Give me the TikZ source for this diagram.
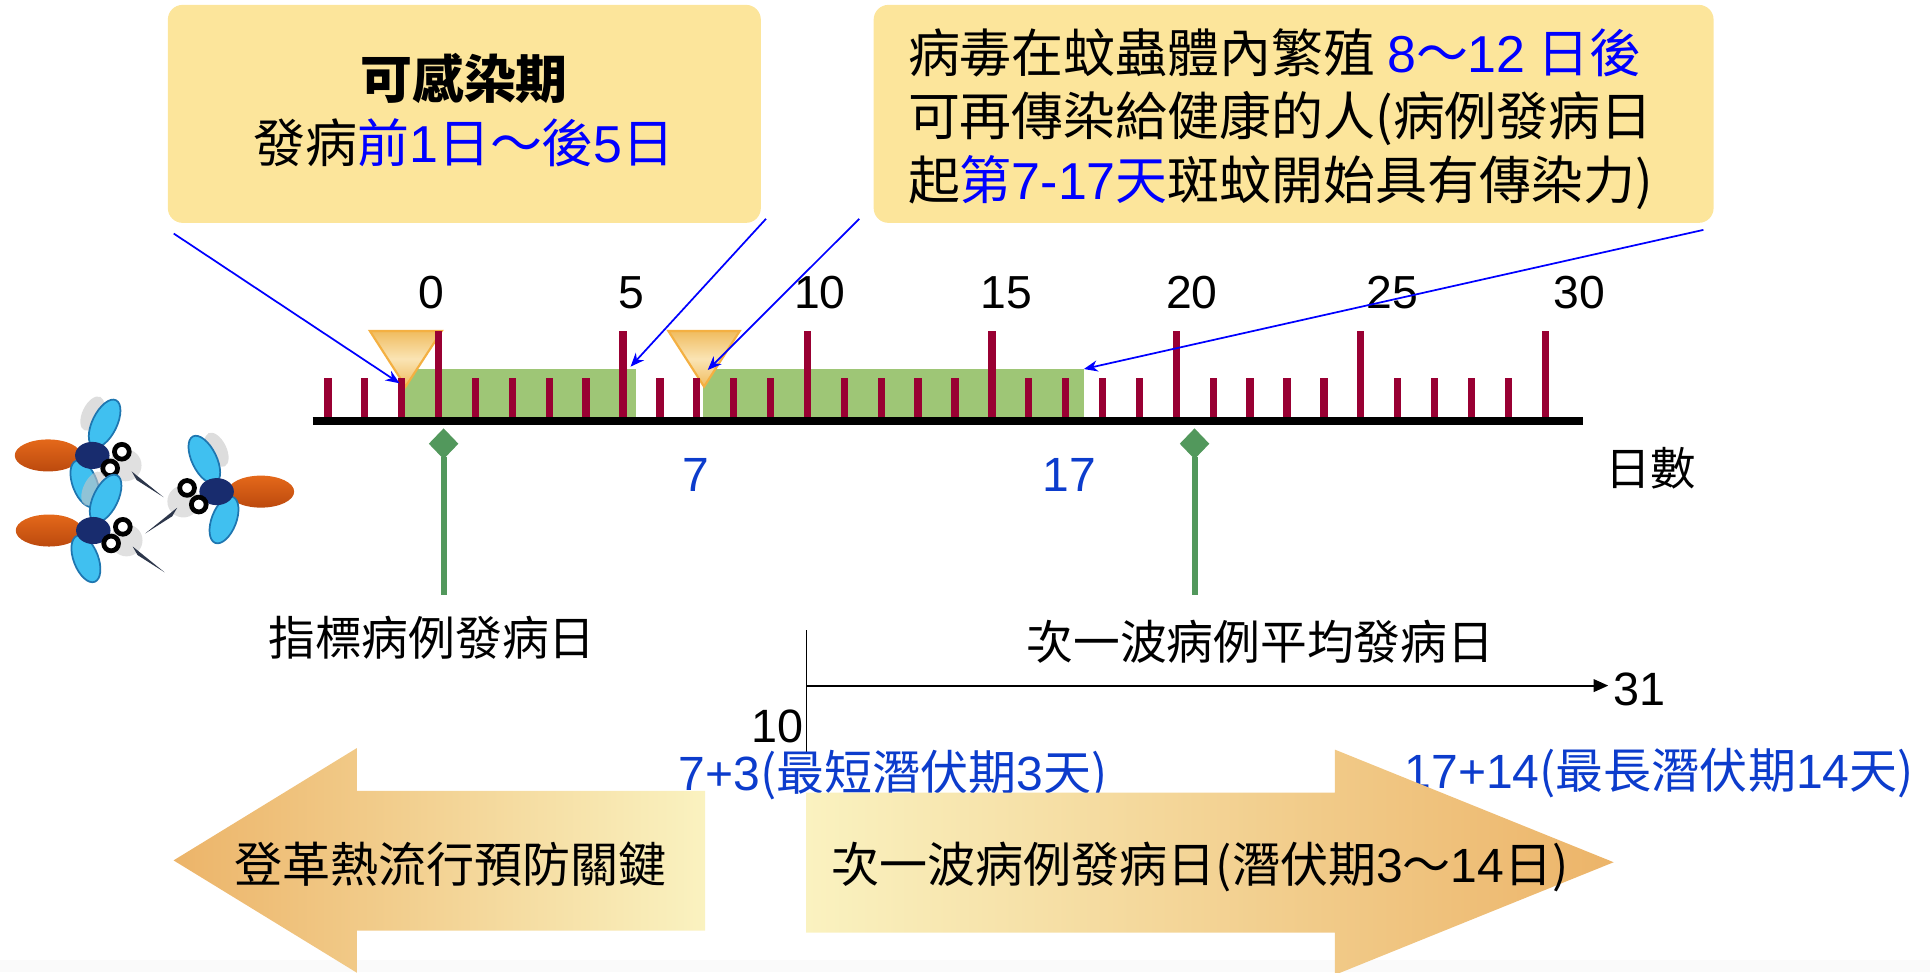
\documentclass[tikz,border=0pt]{standalone}
\usepackage{fontspec}
\setmainfont{Noto Sans CJK TC}
\newfontfamily\latinfont{Liberation Sans}
\newcommand{\latn}[1]{{\latinfont #1}}
\usetikzlibrary{arrows.meta}

\definecolor{boxyellow}{RGB}{252,229,155}
\definecolor{textblue}{RGB}{0,0,255}
\definecolor{labelblue}{RGB}{12,60,204}
\definecolor{tickred}{RGB}{153,0,51}
\definecolor{bargreen}{RGB}{158,198,118}
\definecolor{markgreen}{RGB}{82,152,92}
\definecolor{triorange}{RGB}{240,188,95}
\definecolor{trilight}{RGB}{250,228,180}
\definecolor{triedge}{RGB}{244,176,66}
\definecolor{arroworange}{RGB}{236,180,105}
\definecolor{arrowlight}{RGB}{250,242,192}
\definecolor{bodyorange}{RGB}{228,104,26}
\definecolor{bodydark}{RGB}{188,74,14}
\definecolor{thoraxnavy}{RGB}{24,44,110}
\definecolor{wingblue}{RGB}{64,192,240}
\definecolor{wingedge}{RGB}{30,118,176}
\definecolor{stylet}{RGB}{45,55,75}

\tikzset{
  mosquito/.pic={
    \fill[gray!45, opacity=0.6] (0,-34) circle[x radius=15, y radius=8, rotate=64];
    \fill[gray!40, opacity=0.6] (27,8) circle[radius=13];
    \shade[top color=bodyorange, bottom color=bodydark] (-36,0) circle[x radius=27, y radius=13];
    \filldraw[fill=wingblue, draw=wingedge, line width=0.4pt] (10,-26) circle[x radius=21, y radius=10, rotate=64];
    \filldraw[fill=wingblue, draw=wingedge, line width=0.4pt] (-6,23) circle[x radius=20, y radius=10, rotate=-69];
    \fill[thoraxnavy] (0,0) circle[x radius=14, y radius=11];
    \filldraw[fill=white, line width=1.1pt] (24,-3) circle[radius=6];
    \filldraw[fill=white, line width=1.1pt] (14.5,10.5) circle[radius=6];
    \fill[stylet] (32,13) -- (36,20) -- (58,34) -- cycle;
  }
}

\begin{document}
\begin{tikzpicture}[x=0.01cm, y=-0.01cm,
    every node/.style={inner sep=0pt},
    infobox/.style={fill=boxyellow, rounded corners=0.12cm, minimum height=1.77cm},
    boxtext/.style={font=\fontsize{12}{14.7}\selectfont},
    pointer/.style={blue, line width=0.4pt, -{Stealth[length=3.2pt, width=2.6pt]}},
    daytick/.style={tickred, line width=1.7pt},
    daynum/.style={font=\latinfont\fontsize{10.7}{12}\selectfont},
    cue/.style={draw=triedge, line width=0.5pt, top color=triorange, bottom color=triorange, middle color=trilight},
    marker/.style={fill=markgreen},
    stem/.style={markgreen, line width=1.4pt},
    caption/.style={font=\fontsize{10.8}{13}\selectfont},
    bluenum/.style={text=labelblue, font=\latinfont\fontsize{11.1}{13}\selectfont},
    bluenote/.style={text=labelblue, font=\fontsize{11.1}{13}\selectfont},
    arrowtext/.style={font=\fontsize{11.1}{13}\selectfont}]

  \useasboundingbox (0,0) rectangle (1568,790);
  \fill[black!2] (0,780) rectangle (1568,790);

  \node[infobox, minimum width=4.815cm] (period) at (377.25,92.5) {};
  \node[boxtext, align=center] (periodtext) at (377,89.5)
    {\textbf{可感染期}\\發病\textcolor{textblue}{前\latn{1}日～後\latn{5}日}};
  \node[infobox, minimum width=6.82cm] (virus) at (1051,92.5) {};
  \node[boxtext, align=left, anchor=west] (virustext) at (737,96.8)
    {病毒在蚊蟲體內繁殖 \textcolor{textblue}{\latn{8}～\latn{12}\ 日後}\\
     可再傳染給健康的人(病例發病日\\
     起\textcolor{textblue}{第\latn{7-17}天}斑蚊開始具有傳染力)};

  \fill[bargreen] (328.4,299.8) rectangle (516.6,342);
  \fill[bargreen] (571.5,299.8) rectangle (880.5,342);

  \draw[cue] (300.5,268.9) -- (358.9,268.9) -- (329.5,314.1) -- cycle;
  \draw[cue] (543,268.9) -- (601,268.9) -- (572,314.1) -- cycle;

  \foreach \d in {-3,...,30}
    \draw[daytick] ({356.3+29.97*\d},342) -- ({356.3+29.97*\d},{ifthenelse(mod(\d,5)==0,268.9,307.4)});
  \draw[line width=1.76pt] (254,342) -- (1285.7,342);

  \foreach \d/\x in {0/350.6,5/513,10/666,15/817.8,20/968.4,25/1131,30/1283}
    \node[daynum] (day\d) at (\x,237.5) {\d};
  \node[font=\fontsize{10.5}{12}\selectfont] (days) at (1341,380.5) {日數};

  \coordinate (onset) at (324.6,311.4);
  \coordinate (bar1end) at (512.3,297.9);
  \coordinate (bitten) at (575,300.6);
  \coordinate (bar2end) at (880.6,299.8);
  \draw[pointer] ([shift={(5.5,8)}]period.south west) -- (onset);
  \draw[pointer] ([shift={(3.5,-4)}]period.south east) -- (bar1end);
  \draw[pointer] ([shift={(-11,-4)}]virus.south west) -- (bitten);
  \draw[pointer] ([shift={(-9,5)}]virus.south east) -- (bar2end);

  \coordinate (index) at (360.4,360.5);
  \coordinate (wave) at (970.5,360.5);
  \fill[marker] (index) ++(0,-12.5) -- ++(12,12.5) -- ++(-12,12.5) -- ++(-12,-12.5) -- cycle;
  \fill[marker] (wave) ++(0,-12.5) -- ++(12,12.5) -- ++(-12,12.5) -- ++(-12,-12.5) -- cycle;
  \coordinate (indexfoot) at (360.4,483.4);
  \coordinate (wavefoot) at (970.5,483.4);
  \draw[stem] (index) ++(0,11) -- (indexfoot);
  \draw[stem] (wave) ++(0,11) -- (wavefoot);

  \node[bluenum] (seven) at (565,386) {7};
  \node[bluenum] (seventeen) at (868.5,386) {17};

  \node[caption] (indexlabel) at (351,518.5) {指標病例發病日};
  \node[caption] (wavelabel) at (1024,521) {次一波病例平均發病日};

  \coordinate (spantop) at (655,512);
  \coordinate (spanbottom) at (655,611);
  \coordinate (spanstart) at (655,557);
  \node[font=\latinfont\fontsize{10.8}{12}\selectfont] (ten) at (632,590) {10};
  \node[font=\latinfont\fontsize{10.8}{12}\selectfont] (thirtyone) at (1332,560) {31};
  \draw[line width=0.3pt] (spantop) -- (spanbottom);
  \draw[line width=0.5pt, -{Triangle[length=3.4pt, width=2.9pt]}, shorten >=1pt]
    (spanstart) -- (spanstart -| thirtyone.west);

  \node[bluenote] (shortest) at (725.5,630) {\latn{7+3}(最短潛伏期\latn{3}天)};
  \node[bluenote] (longest) at (1348,628) {\latn{17+14}(最長潛伏期\latn{14}天)};

  \shade[left color=arroworange, right color=arrowlight]
    (141,699) -- (290,607.7) -- (290,642.6) -- (572.8,642.6) -- (572.8,756) -- (290,756) -- (290,790.3) -- cycle;
  \node[arrowtext] (prevention) at (366,702) {登革熱流行預防關鍵};

  \shade[left color=arrowlight, right color=arroworange]
    (655,644) -- (1084.5,644) -- (1084.5,609) -- (1311,700.5) -- (1084.5,792) -- (1084.5,757.7) -- (655,757.7) -- cycle;
  \node[arrowtext] (nextwave) at (975,704) {次一波病例發病日(潛伏期\latn{3}～\latn{14}日)};

  \pic at (75,370) {mosquito};
  \pic at (75.8,431) {mosquito};
  \pic[xscale=-1] at (176,399.4) {mosquito};

\end{tikzpicture}
\end{document}
